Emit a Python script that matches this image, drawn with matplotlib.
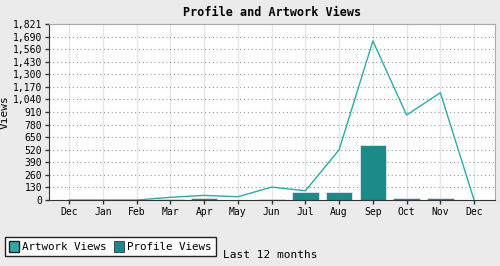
import matplotlib.pyplot as plt

months = ['Dec', 'Jan', 'Feb', 'Mar', 'Apr', 'May', 'Jun', 'Jul', 'Aug', 'Sep', 'Oct', 'Nov', 'Dec']
artwork_views = [0, 0, 0, 28, 48, 34, 134, 96, 520, 1645, 879, 1110, 0]
profile_views = [0, 0, 0, 10, 24, 0, 13, 86, 86, 572, 24, 24, 0]
yticks = [0, 130, 260, 390, 520, 650, 780, 910, 1040, 1170, 1300, 1430, 1560, 1690, 1821]

plt.rcParams['font.family'] = 'DejaVu Sans Mono'
fig = plt.figure(figsize=(5, 2.66), dpi=100)
fig.patch.set_facecolor('#ebebeb')
ax = fig.add_axes([0.098, 0.248, 0.892, 0.662])
ax.set_facecolor('white')

x = list(range(len(months)))
ax.bar(x, profile_views, width=0.78, color='#1d8a8a', edgecolor='#f0f0f0', linewidth=0.5,
       label='Profile Views', zorder=2)
ax.plot(x, artwork_views, color='#2aacac', linewidth=1, zorder=3)
ax.bar([0], [0], color='#2aacac', label='Artwork Views')  # legend proxy

ax.set_xlim(-0.6, 12.62)
ax.set_ylim(0, 1821)
ax.set_xticks(x)
ax.set_xticklabels(months, fontsize=7)
ax.set_yticks(yticks)
ax.set_yticklabels([f'{v:,}' for v in yticks], fontsize=7)
ax.tick_params(axis='both', length=3, width=1, color='#333333', pad=2)

ax.grid(axis='x', color='#e6e6e6', linewidth=1, zorder=0)
ax.grid(axis='y', color='#999999', linestyle=(0, (1, 2.5)), linewidth=0.8, zorder=0)
ax.set_axisbelow(True)

for s in ['top', 'right']:
    ax.spines[s].set_color('#aaaaaa')
for s in ['left', 'bottom']:
    ax.spines[s].set_color('#333333')

ax.set_ylabel('Views', fontsize=8, labelpad=2)
ax.set_title('Profile and Artwork Views', fontsize=8.5, fontweight='bold', pad=6)
fig.text(0.54, 0.041, 'Last 12 months', fontsize=8, ha='center', va='center')

h, l = ax.get_legend_handles_labels()
order = [l.index('Artwork Views'), l.index('Profile Views')]
leg = fig.legend([h[i] for i in order], [l[i] for i in order], loc='lower left',
                 bbox_to_anchor=(0.01, 0.036), ncol=2, fontsize=7.8, fancybox=False,
                 edgecolor='#222222', framealpha=1, handlelength=0.9, handleheight=1.1,
                 borderpad=0.4, columnspacing=0.7, handletextpad=0.3, borderaxespad=0)
leg.get_frame().set_linewidth(1)
for p in leg.get_patches():
    p.set_edgecolor('#222222')

fig.savefig('out.png', dpi=100, facecolor=fig.get_facecolor())
